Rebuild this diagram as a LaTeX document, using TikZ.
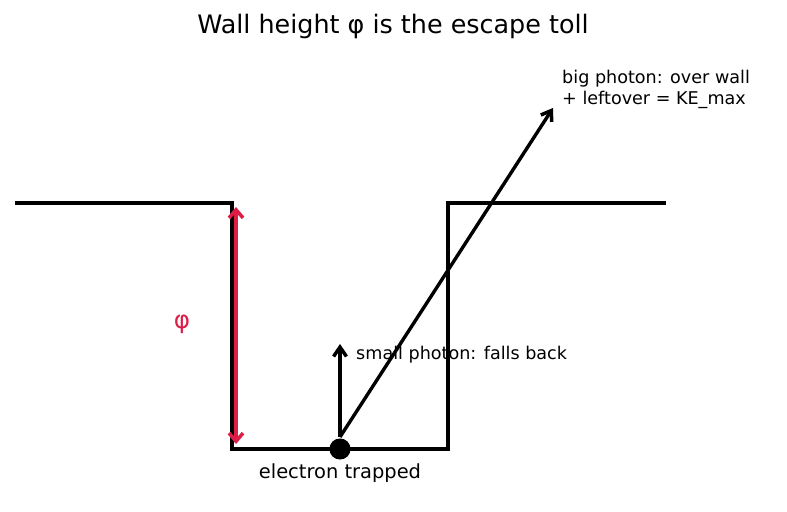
\documentclass[tikz,border=0pt]{standalone}
\usepackage{fontspec}
\setmainfont{DejaVu Sans}
\usetikzlibrary{arrows.meta}
\definecolor{tollred}{RGB}{220,30,70}
\tikzset{
  wall/.style={line width=4pt,line join=miter},
  photon/.style={line width=2.9pt,-{Straight Barb[length=8pt,width=11pt,line width=3pt]}},
  toll/.style={line width=3.6pt,tollred,{Straight Barb[length=7pt,width=12pt,line width=3pt]}-{Straight Barb[length=7pt,width=12pt,line width=3pt]}},
  note/.style={font=\fontsize{15}{18}\selectfont,inner sep=0pt}
}
\begin{document}
\begin{tikzpicture}[x=0.03cm,y=-0.03cm]
\useasboundingbox(0,0)rectangle(787,512);
%potential well
\coordinate(lg)at(15,203);
\coordinate(lt)at(232,203);
\coordinate(lb)at(232,449);
\coordinate(rb)at(448,449);
\coordinate(rt)at(448,203);
\coordinate(rg)at(666,203);
\draw[wall](lg)--(lt)--(lb)--(rb)--(rt)--(rg);
%wall height
\coordinate(tolltop)at(236,207);
\coordinate(tollbot)at(236,444);
\draw[toll](tollbot)--(tolltop);
\node[tollred,font=\fontsize{21}{24}\selectfont](phi)at(182,324){φ};
%electron and photons
\node[circle,fill=black,minimum size=18pt,inner sep=0pt](e)at(340,449){};
\coordinate(kick)at(340,437);
\coordinate(small)at(340,344);
\coordinate(big)at(553,108);
\draw[photon](kick)--(small);
\draw[photon](kick)--(big);
%labels
\node[font=\fontsize{21.7}{26}\selectfont](title)at(393,26){Wall height φ is the escape toll};
\node[note,anchor=west](fallback)at(356,355){small photon: falls back};
\node[note,anchor=west,align=left](escape)at(562,89){big photon: over wall\\+ leftover = KE\_max};
\node[font=\fontsize{16.6}{20}\selectfont](trapped)at(340,473){electron trapped};
\end{tikzpicture}
\end{document}
